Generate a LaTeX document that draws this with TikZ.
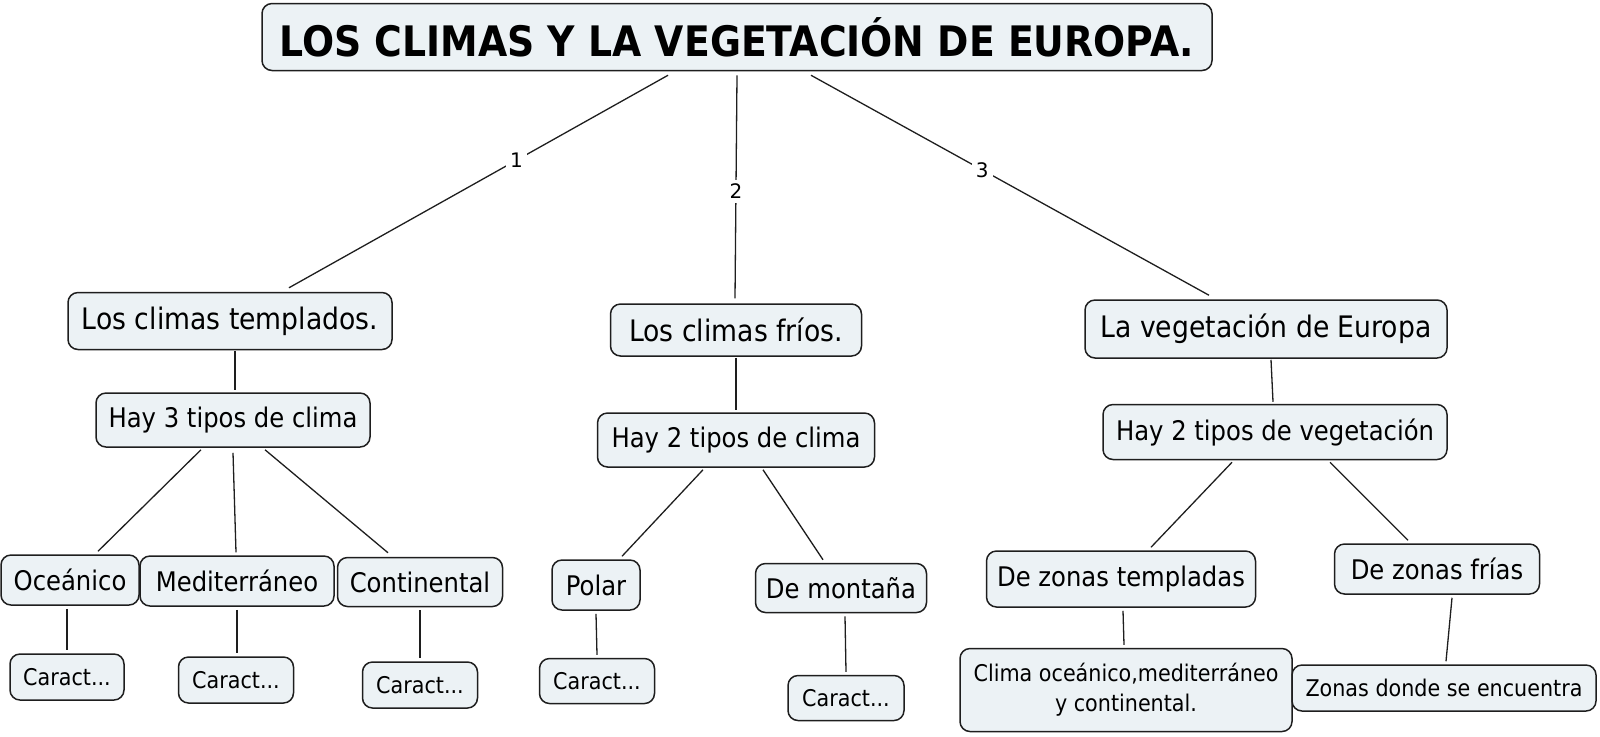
\documentclass[tikz,border=0pt]{standalone}
\usepackage{fontspec}
\setmainfont{DejaVu Sans}[FakeStretch=0.9]
\newfontfamily\numfont{DejaVu Sans}
\usetikzlibrary{calc}
\definecolor{boxfill}{RGB}{236,242,245}
\definecolor{edge}{RGB}{30,30,30}
\tikzset{
  box/.style={draw=edge, line width=0.75pt, rounded corners=5pt, fill=boxfill, inner sep=0pt, align=center},
  lone/.style={box, font=\fontsize{14.8}{17}\selectfont},
  ltwo/.style={box, font=\fontsize{13.5}{16}\selectfont},
  lfour/.style={box, font=\fontsize{11.5}{15}\selectfont},
  conn/.style={line width=0.65pt, draw=edge},
  num/.style={fill=white, inner sep=2pt, font=\numfont\fontsize{10}{12}\selectfont}
}
\begin{document}
\begin{tikzpicture}[x=0.5pt,y=-0.5pt]
\useasboundingbox (0,0) rectangle (1600,736);
% title
\node[box, minimum width=475pt, minimum height=33.5pt, font=\bfseries\fontsize{21}{24}\selectfont] (title) at (737,37) {LOS CLIMAS Y LA VEGETACIÓN DE EUROPA.};
% level 1
\node[lone, minimum width=162pt, minimum height=28.5pt] (templ) at (230,321) {Los climas templados.};
\node[lone, minimum width=125.5pt, minimum height=26pt] (frios) at (736,330) {Los climas fríos.};
\node[lone, minimum width=181pt, minimum height=29pt] (veg) at (1266,329) {La vegetación de Europa};
% level 2
\node[ltwo, minimum width=137pt, minimum height=27pt] (hay3) at (233,420) {Hay 3 tipos de clima};
\node[ltwo, minimum width=138.5pt, minimum height=27pt] (hay2) at (736,440) {Hay 2 tipos de clima};
\node[ltwo, minimum width=172pt, minimum height=27.5pt] (hayv) at (1275,432) {Hay 2 tipos de vegetación};
% level 3
\node[ltwo, minimum width=69pt, minimum height=25pt] (oce) at (70,580) {Oceánico};
\node[ltwo, minimum width=97pt, minimum height=25pt] (med) at (237,581) {Mediterráneo};
\node[ltwo, minimum width=82.5pt, minimum height=24.5pt] (cont) at (420,582) {Continental};
\node[ltwo, minimum width=44pt, minimum height=25pt] (polar) at (596,585) {Polar};
\node[ltwo, minimum width=85.5pt, minimum height=24.5pt] (mont) at (841,588) {De montaña};
\node[ltwo, minimum width=134.5pt, minimum height=28pt] (dzt) at (1121,579) {De zonas templadas};
\node[ltwo, minimum width=102.5pt, minimum height=25pt] (dzf) at (1437,569) {De zonas frías};
% level 4
\node[lfour, minimum width=57pt, minimum height=23pt] (c1) at (67,677) {Caract...};
\node[lfour, minimum width=57.5pt, minimum height=23pt] (c2) at (236,680) {Caract...};
\node[lfour, minimum width=57.5pt, minimum height=23pt] (c3) at (420,685) {Caract...};
\node[lfour, minimum width=57.5pt, minimum height=22.5pt] (c4) at (597,681) {Caract...};
\node[lfour, minimum width=58pt, minimum height=22.5pt] (c5) at (846,698) {Caract...};
\node[lfour, minimum width=166pt, minimum height=41.5pt] (clima) at (1126,690) {Clima oceánico,mediterráneo\\y continental.};
\node[lfour, minimum width=152pt, minimum height=23pt] (zonas) at (1444,688) {Zonas donde se encuentra};
% connectors from title
\draw[conn] ($(title.south)+(-69,4)$) -- node[num, pos=0.4] {1} ($(templ.north)+(59,-4)$);
\draw[conn] ($(title.south)+(0,4)$) -- node[num, pos=0.52] {2} ($(frios.north)+(-1,-5)$);
\draw[conn] ($(title.south)+(74,4)$) -- node[num, pos=0.43] {3} ($(veg.north)+(-57,-4)$);
% level 1 -> level 2
\draw[conn] ($(templ.south)+(5,1)$) -- ($(hay3.north)+(2,-2)$);
\draw[conn] ($(frios.south)+(0,1)$) -- ($(hay2.north)+(0,-2)$);
\draw[conn] ($(veg.south)+(5,1)$) -- ($(hayv.north)+(-2,-2)$);
% level 2 -> level 3
\draw[conn] ($(hay3.south)+(-32,2)$) -- ($(oce.north)+(28,-3)$);
\draw[conn] ($(hay3.south)+(0,5)$) -- ($(med.north)+(-1,-3)$);
\draw[conn] ($(hay3.south)+(32,2)$) -- ($(cont.north)+(-32,-4)$);
\draw[conn] ($(hay2.south)+(-33,2)$) -- ($(polar.north)+(26,-3)$);
\draw[conn] ($(hay2.south)+(27,2)$) -- ($(mont.north)+(-18,-3)$);
\draw[conn] ($(hayv.south)+(-43,2)$) -- ($(dzt.north)+(30,-3)$);
\draw[conn] ($(hayv.south)+(55,2)$) -- ($(dzf.north)+(-29,-3)$);
% level 3 -> level 4
\draw[conn] ($(oce.south)+(-3,3)$) -- ($(c1.north)+(0,-3)$);
\draw[conn] ($(med.south)+(0,3)$) -- ($(c2.north)+(1,-3)$);
\draw[conn] ($(cont.south)+(0,3)$) -- ($(c3.north)+(0,-3)$);
\draw[conn] ($(polar.south)+(0,3)$) -- ($(c4.north)+(0,-3)$);
\draw[conn] ($(mont.south)+(4,3)$) -- ($(c5.north)+(0,-3)$);
\draw[conn] ($(dzt.south)+(2,3)$) -- ($(clima.north)+(-2,-3)$);
\draw[conn] ($(dzf.south)+(15,3)$) -- ($(zonas.north)+(2,-3)$);
\end{tikzpicture}
\end{document}
